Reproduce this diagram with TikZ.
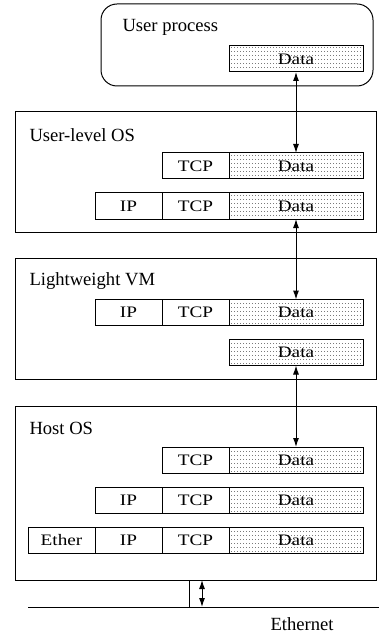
\documentclass[tikz,border=0pt]{standalone}
\usepackage{fontspec}
\setmainfont{Liberation Serif}
\usepackage{graphicx}
\usepackage{tikz}
\usetikzlibrary{positioning, patterns, arrows.meta}

\newcommand{\celltxt}[1]{\scalebox{1.2}[1]{#1}}
% sparse dots for the payload cells
\pgfdeclarepatternformonly{sparsedots}{\pgfpoint{-1pt}{-1pt}}{\pgfpoint{2pt}{3pt}}{\pgfpoint{3pt}{4pt}}
{\pgfpathcircle{\pgfqpoint{0.5pt}{0.5pt}}{0.45pt}\pgfusepath{fill}}

\begin{document}
\begin{tikzpicture}[x=1pt, y=-1pt, line width=1pt,
    arr/.style={{Latex[length=9pt,width=6pt]}-{Latex[length=9pt,width=6pt]}},
    frame/.style={draw, outer sep=0pt, inner sep=0pt},
    title/.style={anchor=west, inner sep=0pt, font=\fontsize{18.6}{20}\selectfont},
    cell/.style={draw, outer sep=0pt, inner sep=0pt, minimum width=67pt,
        minimum height=26pt, font=\fontsize{16}{18}\selectfont},
    datacell/.style={cell, minimum width=134pt, pattern=sparsedots, pattern color=black!80}]
    \useasboundingbox (0,0) rectangle (379,636);

    % User process
    \node[frame, rounded corners=16pt, minimum width=272pt, minimum height=82pt] (up) at (237,45) {};
    \node[title] (uptxt) at (122,27) {User process};
    \node[datacell] (upd) at (296,59) {\celltxt{Data}};

    % User-level OS
    \node[frame, minimum width=361pt, minimum height=120pt] (ulos) at (195.5,172) {};
    \node[title] (ulostxt) at (29,135) {User-level OS};
    \node[datacell] (uld1) at (296,166) {\celltxt{Data}};
    \node[cell, left=0pt of uld1] (ult1) {\celltxt{TCP}};
    \node[datacell] (uld2) at (296,206) {\celltxt{Data}};
    \node[cell, left=0pt of uld2] (ult2) {\celltxt{TCP}};
    \node[cell, left=0pt of ult2] (uli2) {\celltxt{IP}};

    % Lightweight VM
    \node[frame, minimum width=361pt, minimum height=121pt] (lvm) at (195.5,318.5) {};
    \node[title] (lvmtxt) at (29,281) {Lightweight VM};
    \node[datacell] (lvd1) at (296,312.5) {\celltxt{Data}};
    \node[cell, left=0pt of lvd1] (lvt1) {\celltxt{TCP}};
    \node[cell, left=0pt of lvt1] (lvi1) {\celltxt{IP}};
    \node[datacell] (lvd2) at (296,352.5) {\celltxt{Data}};

    % Host OS
    \node[frame, minimum width=361pt, minimum height=174pt] (host) at (195.5,493) {};
    \node[title] (hosttxt) at (29,428) {Host OS};
    \node[datacell] (hd1) at (296,460) {\celltxt{Data}};
    \node[cell, left=0pt of hd1] (ht1) {\celltxt{TCP}};
    \node[datacell] (hd2) at (296,500) {\celltxt{Data}};
    \node[cell, left=0pt of hd2] (ht2) {\celltxt{TCP}};
    \node[cell, left=0pt of ht2] (hi2) {\celltxt{IP}};
    \node[datacell] (hd3) at (296,540) {\celltxt{Data}};
    \node[cell, left=0pt of hd3] (ht3) {\celltxt{TCP}};
    \node[cell, left=0pt of ht3] (hi3) {\celltxt{IP}};
    \node[cell, left=0pt of hi3] (he3) {\celltxt{Ether}};

    % copies between layers
    \draw[arr] (upd.south) -- (uld1.north);
    \draw[arr] (uld2.south) -- (lvd1.north);
    \draw[arr] (lvd2.south) -- (hd1.north);

    % Ethernet wire
    \coordinate (ethL) at (28,607);
    \coordinate (ethR) at (379,607);
    \coordinate (tap) at (189,607);
    \coordinate (nic) at (202,607);
    \draw (ethL) -- (ethR);
    \draw (tap |- host.south) -- (tap);
    \draw[arr] (nic |- host.south) -- (nic);
    \node[anchor=base, inner sep=0pt, font=\fontsize{18.6}{20}\selectfont] (ethtxt) at (302,630) {Ethernet};

\end{tikzpicture}
\end{document}
